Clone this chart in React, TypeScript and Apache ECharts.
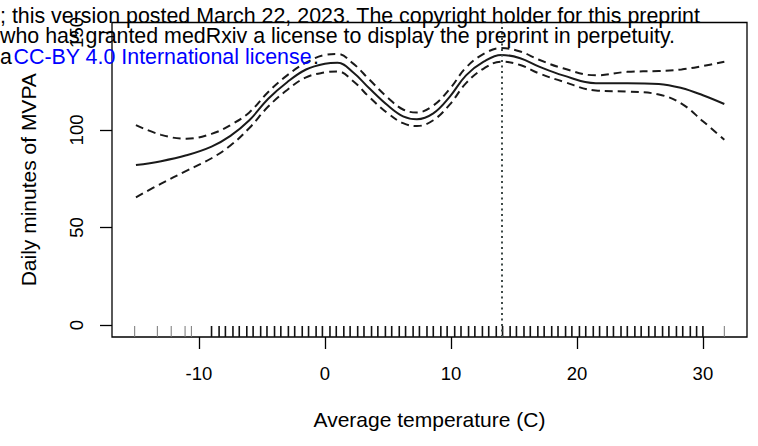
import React, { useEffect, useRef } from "react";
import * as echarts from "echarts";

// Temperature grid (C) and fitted daily MVPA minutes with confidence band
const temps = [-15, -13, -11, -9, -7.5, -6, -4.5, -3, -1.5, 0, 1, 2.25, 3.5, 5, 6.2, 7.3, 8.6, 9.9, 11.2, 12.6, 14, 15.5, 17, 18.9, 21.5, 24, 26.5, 28.3, 30, 31.7];
const fit = [82, 84, 87, 91.5, 97, 105, 116, 124.5, 131, 134, 134.5, 129.5, 121.5, 112.5, 107, 105.5, 108.5, 117, 128, 135, 138.5, 136.8, 132.5, 128, 124, 124, 123.6, 121.5, 117.8, 113.3];
const upper = [102.5, 97.5, 95.5, 98, 102.5, 109, 119.5, 128, 134.5, 138.5, 139, 134, 126, 116.5, 110.5, 109, 112.5, 121, 132, 139, 142, 140.2, 136, 131.6, 128, 129.8, 130.2, 131, 132.8, 135];
const lower = [65.5, 72.5, 79, 85.5, 92, 101, 112, 120.5, 127, 129.5, 130, 125, 117, 108.5, 103.5, 102, 105, 113, 124, 131.5, 135, 133.3, 129, 124.8, 120.2, 119.7, 118.2, 113.5, 104.5, 95];

// Rug of observed temperatures
const rugSparse = [-15.1, -13.3, -12.2, -11.1, -10.6, 31.7];
const rugDense = [-9.0, -8.4, -7.9, -7.3, -6.8, -6.2, -5.7, -5.1, -4.6, -4.0, -3.5, -2.9, -2.4, -1.8, -1.3, -0.7, -0.2, 0.4, 0.9, 1.5, 2.0, 2.6, 3.1, 3.7, 4.2, 4.8, 5.3, 5.9, 6.4, 7.0, 7.5, 8.1, 8.6, 9.2, 9.7, 10.3, 10.8, 11.4, 11.9, 12.5, 13.0, 13.6, 14.1, 14.7, 15.2, 15.8, 16.3, 16.9, 17.4, 18.0, 18.5, 19.1, 19.6, 20.2, 20.7, 21.3, 21.8, 22.4, 22.9, 23.5, 24.0, 24.6, 25.1, 25.7, 26.2, 26.8, 27.3, 27.9, 28.4, 29.0, 29.5, 30.0];

const xTicks = [-10, 0, 10, 20, 30];
const yTicks = [0, 50, 100, 150];
const refTemp = 14;

const headerLine1 = "; this version posted March 22, 2023. The copyright holder for this preprint";
const headerLine2 = "who has granted medRxiv a license to display the preprint in perpetuity.";
const headerLine3a = "a";
const headerLink = "CC-BY 4.0 International license";
const headerLine3b = ".";

const X_MIN = -16.9;
const X_MAX = 33.5;
const Y_MIN = -6.15;
const Y_MAX = 155.1;

const FONT = "Liberation Sans, Arial, Helvetica, sans-serif";
const HEADER_SIZE = 21.4;

export default function App() {
  const ref = useRef<HTMLDivElement>(null);
  useEffect(() => {
    if (!ref.current) return;
    const chart = echarts.init(ref.current, null, { renderer: "svg" });
    const zip = (ys: number[]) => temps.map((t, i) => [t, ys[i]]);
    const rugItem = (color: string, width: number) => (params: any, api: any) => {
      const p = api.coord([api.value(0), Y_MIN]);
      return {
        type: "line",
        shape: { x1: p[0], y1: p[1], x2: p[0], y2: p[1] - 11 },
        style: { stroke: color, lineWidth: width },
      };
    };
    const headerText = (text: string, x: number, y: number, fill: string, align = "left") => ({
      type: "text",
      x,
      y,
      z: 100,
      silent: true,
      style: {
        text,
        fill,
        font: `${HEADER_SIZE}px ${FONT}`,
        fontSize: HEADER_SIZE,
        fontFamily: FONT,
        lineHeight: 19,
        align,
        textAlign: align,
        verticalAlign: "middle",
        textVerticalAlign: "middle",
      },
    });
    chart.setOption({
      animation: false,
      backgroundColor: "#fff",
      grid: {
        left: 112,
        right: 11,
        top: 22.5,
        bottom: 109,
        show: true,
        borderColor: "#000",
        borderWidth: 1.3,
      },
      xAxis: {
        type: "value",
        min: X_MIN,
        max: X_MAX,
        name: "Average temperature (C)",
        nameLocation: "middle",
        nameGap: 72,
        nameTextStyle: { fontSize: 21, fontFamily: FONT, color: "#000" },
        axisLine: { show: false, onZero: false },
        splitLine: { show: false },
        axisTick: { show: true, length: 12, inside: false, customValues: xTicks, lineStyle: { color: "#000", width: 1.3 } },
        axisLabel: { customValues: xTicks, margin: 27, fontSize: 18.5, fontFamily: FONT, color: "#000" },
      },
      yAxis: {
        type: "value",
        min: Y_MIN,
        max: Y_MAX,
        name: "Daily minutes of MVPA",
        nameLocation: "middle",
        nameRotate: 90,
        nameGap: 73,
        nameTextStyle: { fontSize: 21, fontFamily: FONT, color: "#000" },
        axisLine: { show: false, onZero: false },
        splitLine: { show: false },
        axisTick: { show: true, length: 12, inside: false, customValues: yTicks, lineStyle: { color: "#000", width: 1.3 } },
        axisLabel: { customValues: yTicks, rotate: 90, margin: 26, fontSize: 18.5, fontFamily: FONT, color: "#000" },
      },
      series: [
        {
          type: "line",
          name: "fit",
          data: zip(fit),
          smooth: 0.4,
          showSymbol: false,
          lineStyle: { color: "#1a1a1a", width: 2 },
          markLine: {
            silent: true,
            symbol: "none",
            label: { show: false },
            lineStyle: { color: "#3f4a48", type: [2, 3.5], width: 2 },
            data: [{ xAxis: refTemp }],
          },
        },
        {
          type: "line",
          name: "upper",
          data: zip(upper),
          smooth: 0.4,
          showSymbol: false,
          lineStyle: { color: "#1a1a1a", width: 2, type: [8, 5] },
        },
        {
          type: "line",
          name: "lower",
          data: zip(lower),
          smooth: 0.4,
          showSymbol: false,
          lineStyle: { color: "#1a1a1a", width: 2, type: [8, 5] },
        },
        {
          type: "custom",
          name: "rugSparse",
          data: rugSparse.map((v) => [v, Y_MIN]),
          renderItem: rugItem("#777", 1),
          clip: false,
        },
        {
          type: "custom",
          name: "rugDense",
          data: rugDense.map((v) => [v, Y_MIN]),
          renderItem: rugItem("#111", 1.6),
          clip: false,
        },
      ],
      graphic: [
        headerText(headerLine1, 0, 15.5, "#000"),
        headerText(headerLine2, 0, 35.7, "#000"),
        headerText(headerLine3a, 0, 56.7, "#000"),
        headerText(headerLink, 13.5, 56.7, "#0000ff"),
        headerText(headerLine3b, 313, 56.7, "#000"),
      ],
    });
    return () => chart.dispose();
  }, []);
  return <div ref={ref} style={{ position: "absolute", left: 0, top: 0, width: 758, height: 446 }} />;
}
